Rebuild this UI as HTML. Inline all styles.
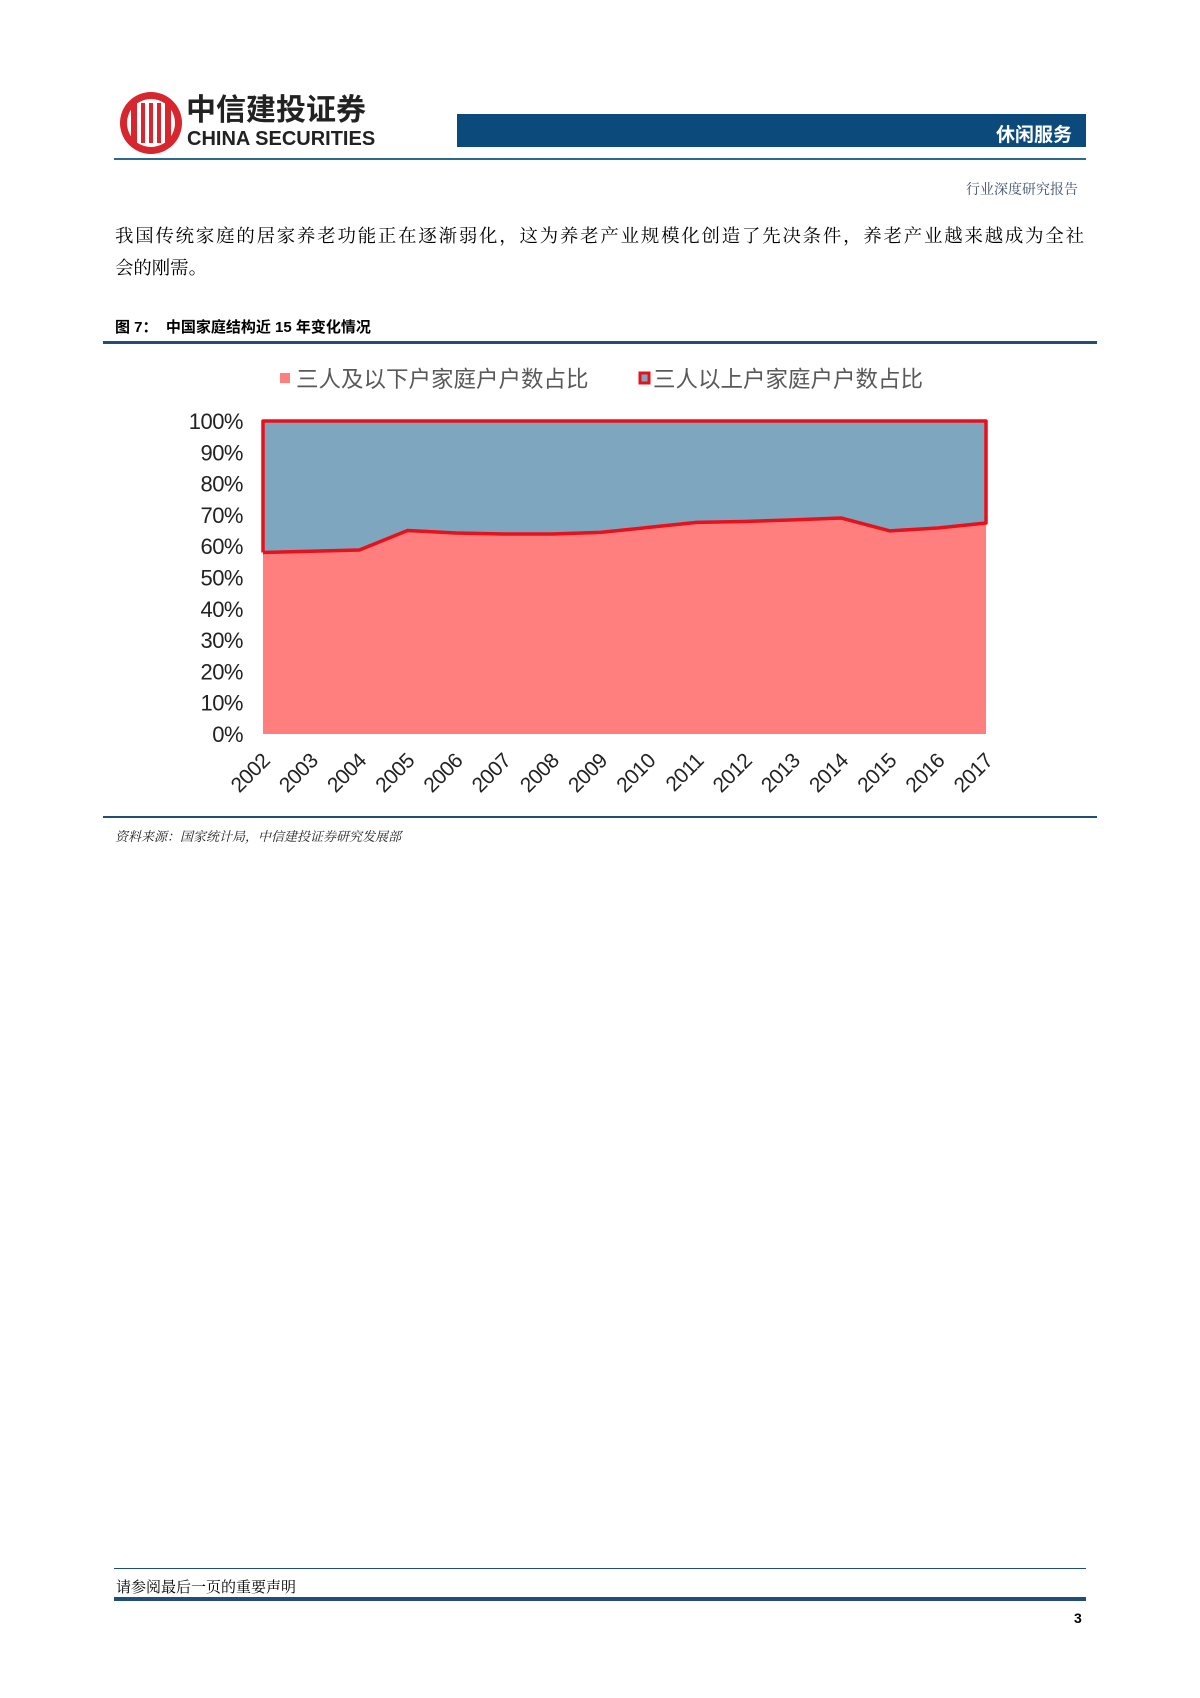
<!DOCTYPE html>
<html><head><meta charset="utf-8"><style>
body{margin:0;background:#fff;}
#page{position:relative;width:1200px;height:1698px;overflow:hidden;font-family:"Liberation Serif","Noto Serif CJK SC",serif;color:#000;}
.abs{position:absolute;}
</style></head><body>
<div id="page">
  <svg class="abs" style="left:117px;top:89px" width="68" height="68">
    <circle cx="34" cy="34" r="31" fill="#d7262d"/>
    <circle cx="34" cy="34" r="24" fill="#fff"/>
    <rect x="14" y="14" width="40" height="40" fill="#d7262d"/>
    <rect x="20" y="14" width="4" height="40" fill="#fff"/><rect x="28" y="14" width="4" height="40" fill="#fff"/><rect x="36" y="14" width="4" height="40" fill="#fff"/><rect x="44" y="14" width="4" height="40" fill="#fff"/>
  </svg>
  <div class="abs" style="left:186px;top:94px;font:bold 30px 'Liberation Sans','Noto Sans CJK SC',sans-serif;color:#222;line-height:34px">中信建投证券</div>
  <div class="abs" style="left:187px;top:128px;font:bold 20px 'Liberation Sans',sans-serif;color:#222;line-height:22px">CHINA SECURITIES</div>
  <div class="abs" style="left:457px;top:114px;width:629px;height:33px;background:#0b4a7b">
    <div style="position:absolute;right:14px;top:6px;font:bold 19px 'Liberation Sans','Noto Sans CJK SC',sans-serif;color:#fff">休闲服务</div>
  </div>
  <div class="abs" style="left:114px;top:158px;width:972px;height:2px;background:#2b6a8e"></div>
  <div class="abs" style="right:122px;top:179px;font:14px 'Liberation Serif','Noto Serif CJK SC',serif;color:#3e4f6e">行业深度研究报告</div>
  <div class="abs" style="left:115px;top:220px;width:969px;font:18.4px/32px 'Liberation Serif','Noto Serif CJK SC',serif">
    <div style="white-space:nowrap;text-align:justify;text-align-last:justify">我国传统家庭的居家养老功能正在逐渐弱化，这为养老产业规模化创造了先决条件，养老产业越来越成为全社</div>
    <div>会的刚需。</div>
  </div>
  <div class="abs" style="left:115px;top:316px;font:bold 15px 'Liberation Sans','Noto Sans CJK SC',sans-serif">图 7：&nbsp;&nbsp;中国家庭结构近 15 年变化情况</div>
  <div class="abs" style="left:103px;top:341px;width:994px;height:3px;background:#1f4e79"></div>

  <svg id="chart" class="abs" style="left:0;top:350px" width="1200" height="466"></svg>

  <div class="abs" style="left:103px;top:816px;width:994px;height:2px;background:#1f4e79"></div>
  <div class="abs" style="left:115px;top:826px;font:italic 13px 'Liberation Serif','Noto Serif CJK SC',serif;color:#222">资料来源：国家统计局，中信建投证券研究发展部</div>
  <div class="abs" style="left:114px;top:1568px;width:972px;height:1px;background:#1f4e79"></div>
  <div class="abs" style="left:116px;top:1576px;font:15px 'Liberation Serif','Noto Serif CJK SC',serif">请参阅最后一页的重要声明</div>
  <div class="abs" style="left:114px;top:1597px;width:972px;height:4px;background:#1f4e79"></div>
  <div class="abs" style="left:1074px;top:1610px;font:bold 14px 'Liberation Sans',sans-serif">3</div>
</div>
<script>
const years=['2002','2003','2004','2005','2006','2007','2008','2009','2010','2011','2012','2013','2014','2015','2016','2017'];
const smallHouseholdPct=[58.0,58.4,58.8,65.0,64.2,63.9,63.9,64.4,66.0,67.6,67.9,68.4,69.0,64.9,65.8,67.4];
const yTicks=[0,10,20,30,40,50,60,70,80,90,100];
const yTickLabels=['0%','10%','20%','30%','40%','50%','60%','70%','80%','90%','100%'];
const seriesNames=['三人及以下户家庭户户数占比','三人以上户家庭户户数占比'];

const NS='http://www.w3.org/2000/svg';
const chartSvg=document.getElementById('chart');
const L=263,R=986,T=71,B=384;
const xs=i=>L+(R-L)*i/(years.length-1);
const ys=v=>B-(B-T)*v/100;
function mk(t,a){const e=document.createElementNS(NS,t);for(const k in a)e.setAttribute(k,a[k]);chartSvg.appendChild(e);return e;}

const topArea=mk('rect',{x:L,y:ys(100),width:R-L,height:ys(0)-ys(100),fill:'#7fa6bf'});


let d='M'+xs(0)+','+ys(0);
smallHouseholdPct.forEach((v,i)=>{d+=' L'+xs(i)+','+ys(v);});
d+=' L'+xs(years.length-1)+','+ys(0)+' Z';
const botArea=mk('path',{d:d,fill:'#ff7f7f'});


let od='M'+xs(0)+','+ys(smallHouseholdPct[0])+' L'+xs(0)+','+ys(100)+' L'+xs(years.length-1)+','+ys(100);
for(let i=years.length-1;i>=0;i--)od+=' L'+xs(i)+','+ys(smallHouseholdPct[i]);
const outline=mk('path',{d:od,fill:'none',stroke:'#e8101a','stroke-width':3.5,'stroke-linejoin':'round'});



yTicks.forEach((v,i)=>{
  const t=mk('text',{x:243,y:ys(v)+8,'text-anchor':'end','font-family':'Liberation Sans, sans-serif','font-size':22,fill:'#222','letter-spacing':'-0.5'});
  t.textContent=yTickLabels[i];
  
  
});
years.forEach((yr,i)=>{
  const px=xs(i)+8,py=B+28;
  const t=mk('text',{x:px,y:py,'text-anchor':'end','font-family':'Liberation Sans, sans-serif','font-size':21,fill:'#222','letter-spacing':'-0.5',transform:'rotate(-45 '+px+' '+py+')'});
  t.textContent=yr;
  
  
});
const s1=mk('rect',{x:280,y:23,width:10,height:10,fill:'#ff7f7f'});


const t1=mk('text',{x:296,y:37,'font-family':'Liberation Sans, Noto Sans CJK SC, sans-serif','font-size':22.5,fill:'#595959'});
t1.textContent=seriesNames[0];


const s2=mk('rect',{x:640,y:23,width:9,height:10,fill:'#7fa6bf',stroke:'#e8101a','stroke-width':3});


const t2=mk('text',{x:653,y:37,'font-family':'Liberation Sans, Noto Sans CJK SC, sans-serif','font-size':22.5,fill:'#595959'});
t2.textContent=seriesNames[1];


</script>
</body></html>
